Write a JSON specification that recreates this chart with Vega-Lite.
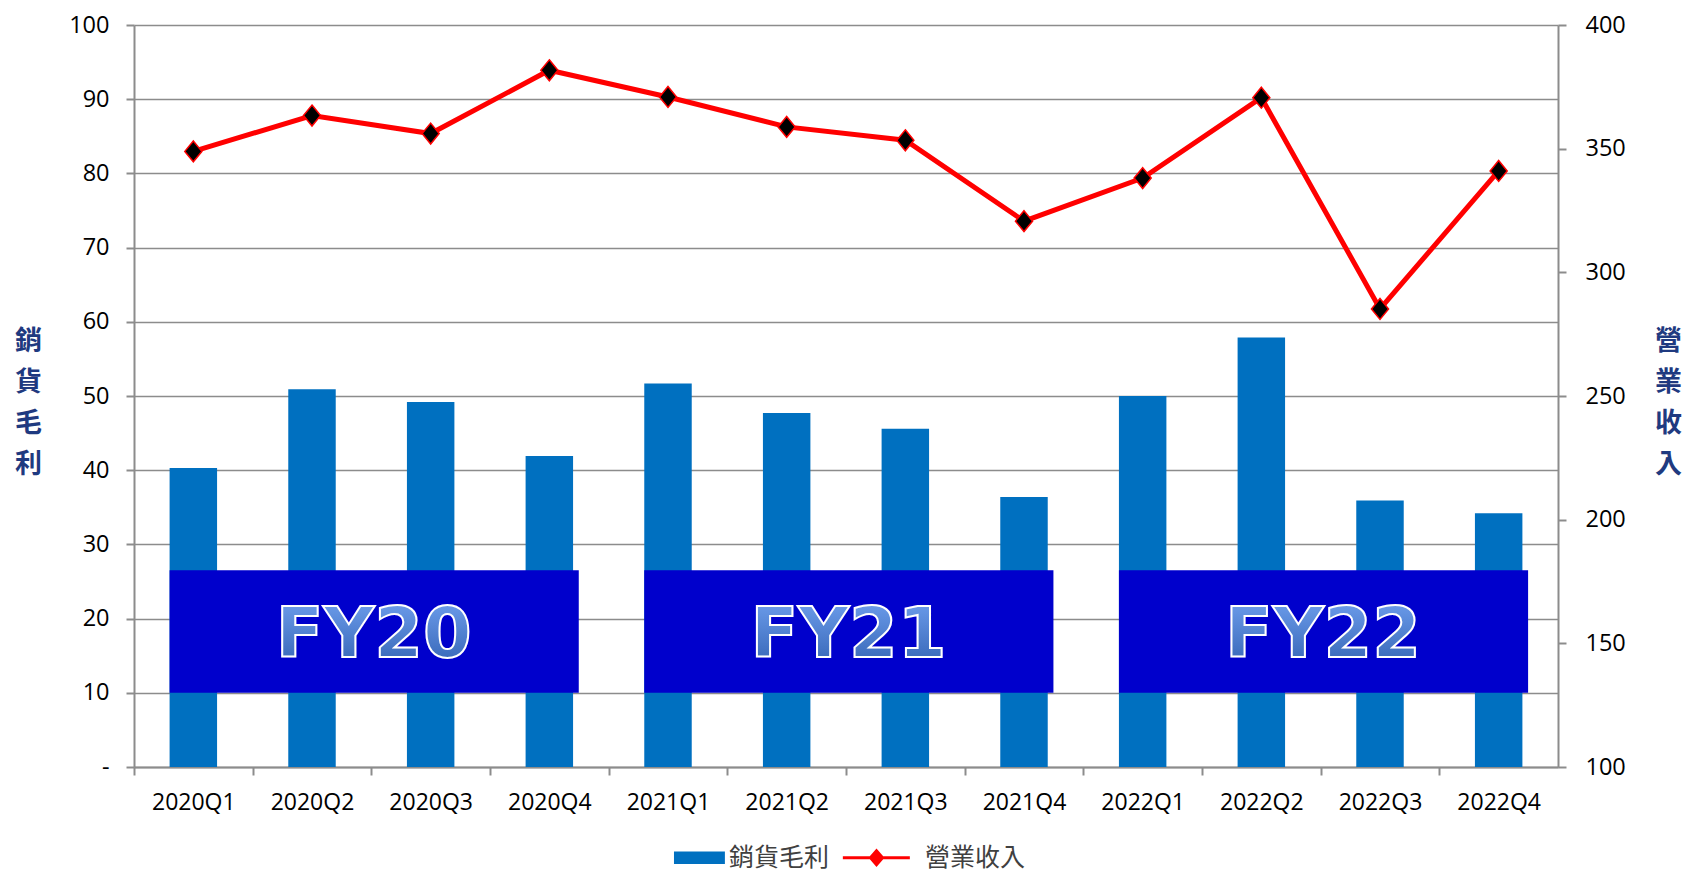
{
  "$schema": "https://vega.github.io/schema/vega-lite/v6.json",
  "width": 1424,
  "height": 742,
  "autosize": {"type": "none"},
  "padding": {"left": 134, "top": 25, "right": 128, "bottom": 105},
  "background": "white",
  "config": {"view": {"stroke": null}},
  "datasets": {
    "q": [
      {"quarter": "2020Q1", "gm": 40.3, "rev": 348.9},
      {"quarter": "2020Q2", "gm": 50.9, "rev": 363.4},
      {"quarter": "2020Q3", "gm": 49.2, "rev": 356.1},
      {"quarter": "2020Q4", "gm": 41.9, "rev": 381.7},
      {"quarter": "2021Q1", "gm": 51.7, "rev": 370.9},
      {"quarter": "2021Q2", "gm": 47.7, "rev": 358.8},
      {"quarter": "2021Q3", "gm": 45.6, "rev": 353.4},
      {"quarter": "2021Q4", "gm": 36.4, "rev": 320.7},
      {"quarter": "2022Q1", "gm": 50.0, "rev": 338.1},
      {"quarter": "2022Q2", "gm": 57.9, "rev": 370.6},
      {"quarter": "2022Q3", "gm": 35.9, "rev": 285.2},
      {"quarter": "2022Q4", "gm": 34.2, "rev": 341.0}
    ],
    "fybox": [
      {"quarter": "2020Q1", "end": "2020Q4"},
      {"quarter": "2021Q1", "end": "2021Q4"},
      {"quarter": "2022Q1", "end": "2022Q4"}
    ],
    "fytext": [
      {"quarter": "2020Q2", "fy": "FY20"},
      {"quarter": "2021Q2", "fy": "FY21"},
      {"quarter": "2022Q2", "fy": "FY22"}
    ]
  },
  "layer": [
    {
      "layer": [
        {
          "data": {"name": "q"},
          "mark": {"type": "bar"},
          "encoding": {
            "x": {
              "field": "quarter", "type": "nominal",
              "scale": {"paddingInner": 0.6, "paddingOuter": 0.3},
              "axis": {
                "title": null, "labelAngle": 0, "labelFont": "Open Sans", "labelFontSize": 23,
                "labelColor": "black", "labelPadding": 16, "tickSize": 8,
                "tickOffset": -59.33, "labelOffset": 59.33,
                "tickColor": "#8c8c8c", "tickWidth": 2, "domainColor": "#8c8c8c", "domainWidth": 2,
                "grid": false
              }
            },
            "y": {
              "field": "gm", "type": "quantitative",
              "scale": {"domain": [0, 100], "nice": false},
              "axis": {
                "values": [0, 10, 20, 30, 40, 50, 60, 70, 80, 90, 100],
                "labelExpr": "datum.value === 0 ? '-' : datum.label",
                "grid": true, "gridColor": "#8c8c8c", "gridWidth": 1.5,
                "domainColor": "#8c8c8c", "domainWidth": 2,
                "tickColor": "#8c8c8c", "tickWidth": 2, "tickSize": 8,
                "labelFont": "Open Sans", "labelFontSize": 23.5, "labelColor": "black", "labelPadding": 17,
                "title": ["銷", "貨", "毛", "利"],
                "titleAngle": 0, "titleX": -106, "titleY": 316,
                "titleFont": "Noto Sans CJK TC", "titleFontSize": 27, "titleFontWeight": "bold",
                "titleColor": "#1F3A80", "titleLineHeight": 41, "titleAlign": "center", "titleBaseline": "middle"
              }
            },
            "color": {
              "datum": "銷貨毛利", "type": "nominal",
              "scale": {"domain": ["銷貨毛利", "營業收入"], "range": ["#0070C0", "#FF0000"]},
              "legend": {
                "title": null, "orient": "none", "legendX": 565, "legendY": 820,
                "direction": "horizontal", "padding": 0,
                "labelOffset": 5, "columnPadding": 6,
                "labelFont": "Noto Sans CJK TC", "labelFontSize": 25, "labelColor": "#404040", "labelLimit": 300,
                "encode": {
                  "symbols": {
                    "update": {
                      "size": {"value": 4489},
                      "shape": {"signal": "datum.value === '銷貨毛利' ? 'M-1.12,-0.19H0.4V0.19H-1.12Z' : 'M-1.93,0H0.07M-1.105,0L-0.925,-0.21L-0.745,0L-0.925,0.21Z'"},
                      "fill": {"signal": "datum.value === '銷貨毛利' ? '#0070C0' : 'black'"},
                      "stroke": {"signal": "datum.value === '銷貨毛利' ? 'transparent' : '#FF0000'"},
                      "strokeWidth": {"signal": "datum.value === '銷貨毛利' ? 0 : 3"},
                      "opacity": {"value": 1},
                      "fillOpacity": {"value": 1},
                      "strokeOpacity": {"value": 1}
                    }
                  }
                }
              }
            }
          }
        },
        {
          "data": {"name": "fybox"},
          "mark": {"type": "rect", "color": "#0000CC", "opacity": 1},
          "encoding": {
            "x": {"field": "quarter", "type": "nominal", "bandPosition": 0},
            "x2": {"field": "end", "bandPosition": 1.12},
            "y": {"datum": 10, "type": "quantitative"},
            "y2": {"datum": 26.5}
          }
        },
        {
          "data": {"name": "fytext"},
          "mark": {
            "type": "text", "font": "DejaVu Sans", "fontWeight": "bold", "fontSize": 70,
            "align": "center", "baseline": "middle", "dy": 4,
            "fill": {"gradient": "linear", "x1": 0, "y1": 0, "x2": 0, "y2": 1,
              "stops": [{"offset": 0, "color": "#74A4F2"}, {"offset": 1, "color": "#2F5FB0"}]},
            "stroke": "white", "strokeWidth": 2
          },
          "encoding": {
            "x": {"field": "quarter", "type": "nominal", "bandPosition": 1.8},
            "y": {"datum": 18.25, "type": "quantitative"},
            "text": {"field": "fy"}
          }
        }
      ]
    },
    {
      "layer": [
        {
          "data": {"name": "q"},
          "mark": {"type": "line", "strokeWidth": 5},
          "encoding": {
            "x": {"field": "quarter", "type": "nominal"},
            "y": {
              "field": "rev", "type": "quantitative",
              "scale": {"domain": [100, 400], "nice": false},
              "axis": {
                "orient": "right",
                "values": [100, 150, 200, 250, 300, 350, 400],
                "grid": false,
                "domainColor": "#8c8c8c", "domainWidth": 2,
                "tickColor": "#8c8c8c", "tickWidth": 2, "tickSize": 8,
                "labelFont": "Open Sans", "labelFontSize": 23.5, "labelColor": "black", "labelPadding": 19,
                "title": ["營", "業", "收", "入"],
                "titleAngle": 0, "titleX": 110, "titleY": 316,
                "titleFont": "Noto Sans CJK TC", "titleFontSize": 27, "titleFontWeight": "bold",
                "titleColor": "#1F3A80", "titleLineHeight": 41, "titleAlign": "center", "titleBaseline": "middle"
              }
            },
            "color": {"datum": "營業收入", "type": "nominal"}
          }
        },
        {
          "data": {"name": "q"},
          "mark": {
            "type": "point", "shape": "M0,-1.1L0.9,0L0,1.1L-0.9,0Z", "size": 360,
            "filled": true, "fill": "black", "stroke": "#FF0000", "strokeWidth": 1.5, "opacity": 1
          },
          "encoding": {
            "x": {"field": "quarter", "type": "nominal"},
            "y": {"field": "rev", "type": "quantitative"}
          }
        }
      ]
    }
  ],
  "resolve": {"scale": {"y": "independent"}}
}
